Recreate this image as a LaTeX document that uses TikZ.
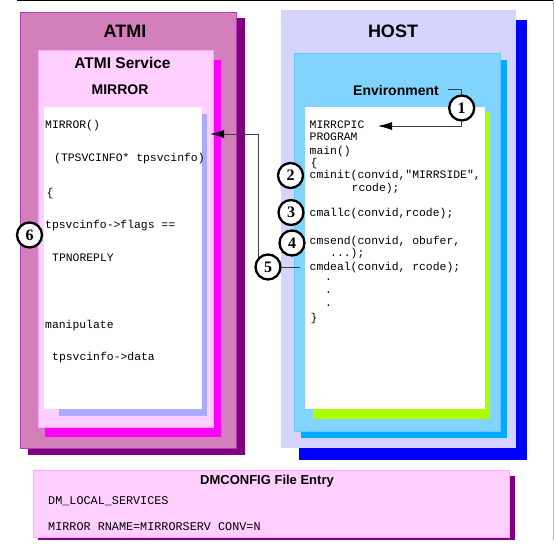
\documentclass[tikz,border=0pt]{standalone}
\usepackage{fontspec}
\setmainfont{Liberation Sans}
\newfontfamily\codefont{Liberation Mono}
\newfontfamily\numfont{Liberation Serif}
\usetikzlibrary{arrows.meta}
\definecolor{atmishadow}{HTML}{800080}
\definecolor{atmifill}{HTML}{D27FBC}
\definecolor{atmiborder}{HTML}{B23BB8}
\definecolor{svcshadow}{HTML}{FF00FF}
\definecolor{svcfill}{HTML}{FFD0FF}
\definecolor{svcborder}{HTML}{FFA8FF}
\definecolor{lcodeshadow}{HTML}{AAAAFF}
\definecolor{hostshadow}{HTML}{0000FF}
\definecolor{hostfill}{HTML}{D4D4FF}
\definecolor{envshadow}{HTML}{00AAFF}
\definecolor{envfill}{HTML}{80D4FF}
\definecolor{envborder}{HTML}{66C8F5}
\definecolor{rcodeshadow}{HTML}{AAFF00}
\definecolor{linkgray}{HTML}{404040}
\tikzset{
  code/.style={anchor=base west, inner sep=0pt, font=\codefont\fontsize{11.4}{12}\selectfont},
  dmcode/.style={anchor=base west, inner sep=0pt, font=\codefont\fontsize{11.8}{12}\selectfont},
  bigtitle/.style={anchor=base, inner sep=0pt, font=\bfseries\fontsize{18}{20}\selectfont},
  midtitle/.style={anchor=base, inner sep=0pt, font=\bfseries\fontsize{15.5}{17}\selectfont},
  smalltitle/.style={anchor=base, inner sep=0pt, font=\bfseries\fontsize{14}{15}\selectfont},
  stepnum/.style={circle, draw=black, line width=2.3pt, fill=white, minimum size=25pt, inner sep=0pt,
    font=\numfont\bfseries\fontsize{16}{16}\selectfont},
  link/.style={draw=linkgray, line width=0.8pt},
  tipped/.style={-{Latex[length=14pt,width=8pt,color=black]}},
}
\begin{document}
\begin{tikzpicture}[x=1pt,y=-1pt]
\useasboundingbox (0,0) rectangle (554,555);
% frame lines
\draw[black, line width=1pt] (17,0.5) -- (554,0.5);
\draw[gray!60, line width=0.8pt] (553,0) -- (553,540);

% ATMI side
\fill[atmishadow] (28,18) rectangle (245,455);
\filldraw[fill=atmifill, draw=atmiborder, line width=0.8pt] (20,12) rectangle (236,448);
\fill[svcshadow] (45,60) rectangle (221,437);
\filldraw[fill=svcfill, draw=svcborder, line width=0.8pt] (38,50) rectangle (213,427);
\fill[lcodeshadow] (59,114) rectangle (207,416);
\fill[white] (44,107) rectangle (202,409);

% HOST side
\fill[hostshadow] (299,20) rectangle (527,460);
\fill[hostfill] (281,10) rectangle (516,448);
\fill[envshadow] (301,60) rectangle (507,438);
\filldraw[fill=envfill, draw=envborder, line width=0.8pt] (294,53) rectangle (500,431);
\fill[rcodeshadow] (313,112) rectangle (490,419);
\fill[white] (305,107) rectangle (485,409);

% DMCONFIG
\fill[atmishadow] (38,476) rectangle (515,540);
\filldraw[fill=svcfill, draw=svcborder, line width=0.8pt] (33,470) rectangle (509,537);

% titles
\node[bigtitle] (atmi) at (125,37) {ATMI};
\node[midtitle] (svc) at (122.5,68) {ATMI Service};
\node[smalltitle] (mirror) at (120,94) {MIRROR};
\node[bigtitle] (host) at (393,37) {HOST};
\node[smalltitle] (env) at (396,95) {Environment};
\node[smalltitle, font=\bfseries\fontsize{13}{14}\selectfont] (dmtitle) at (267,484) {DMCONFIG File Entry};

% left code
\node[code] (l1) at (45,128) {MIRROR()};
\node[code] (l2) at (54,161) {(TPSVCINFO* tpsvcinfo)};
\node[code] (l3) at (46.5,196.5) {\{};
\node[code] (l4) at (45,228.5) {tpsvcinfo->flags ==};
\node[code] (l5) at (52,261.5) {TPNOREPLY};
\node[code] (l6) at (45,328) {manipulate};
\node[code] (l7) at (52,360.5) {tpsvcinfo->data};

% right code
\node[code] (r1) at (309.5,128) {MIRRCPIC};
\node[code] (r2) at (309.5,140.5) {PROGRAM};
\node[code] (r3) at (309.5,154) {main()};
\node[code] (r4) at (310.5,166) {\{};
\node[code] (r5) at (309.5,178.5) {cminit(convid,"MIRRSIDE",};
\node[code] (r6) at (351.5,191.5) {rcode);};
\node[code] (r7) at (309.5,216.5) {cmallc(convid,rcode);};
\node[code] (r8) at (309.5,244) {cmsend(convid, obufer,};
\node[code] (r9) at (330,256.5) {...);};
\node[code] (r10) at (309.5,270) {cmdeal(convid, rcode);};
\node[code] (d1) at (325,280.5) {.};
\node[code] (d2) at (325,293.5) {.};
\node[code] (d3) at (325,306) {.};
\node[code] (r11) at (310.5,321) {\}};

% DMCONFIG text
\node[dmcode] (dm1) at (48,504) {DM\_LOCAL\_SERVICES};
\node[dmcode] (dm2) at (48,530) {MIRROR RNAME=MIRRORSERV CONV=N};

% step circles
\node[stepnum] (c1) at (461.7,108) {1};
\node[stepnum] (c2) at (290.5,175.5) {2};
\node[stepnum] (c3) at (291,212.5) {3};
\node[stepnum] (c4) at (292,243) {4};
\node[stepnum] (c5) at (268,267) {5};
\node[stepnum] (c6) at (29.5,235) {6};

% connectors
\coordinate (envtail) at (448,89);
\coordinate (tip1) at (378,126);
\coordinate (tip5) at (210,134);
\coordinate (c5end) at (300,267);
\draw[link] (envtail) -| (c1.north);
\draw[link, tipped] (c1.south) |- (tip1);
\draw[link, tipped] (c5.134) |- (tip5);
\draw[link] (c5.east) -- (c5end);
\end{tikzpicture}
\end{document}
